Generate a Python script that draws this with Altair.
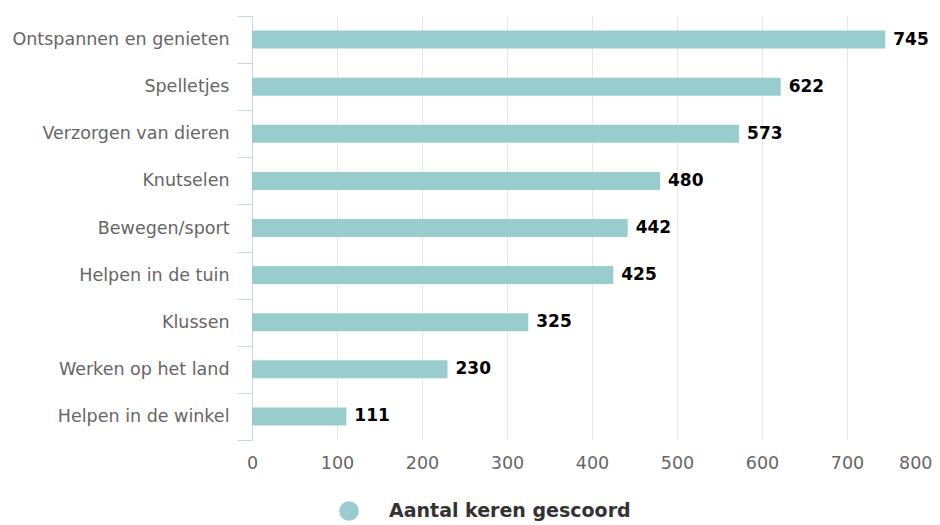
import altair as alt
import pandas as pd

categories = [
    "Ontspannen en genieten",
    "Spelletjes",
    "Verzorgen van dieren",
    "Knutselen",
    "Bewegen/sport",
    "Helpen in de tuin",
    "Klussen",
    "Werken op het land",
    "Helpen in de winkel",
]
values = [745, 622, 573, 480, 442, 425, 325, 230, 111]
series_name = "Aantal keren gescoord"
x_ticks = [0, 100, 200, 300, 400, 500, 600, 700, 800]

df = pd.DataFrame({"cat": categories, "val": values, "series": [series_name] * len(values)})

y_enc = alt.Y(
    "cat:N",
    sort=categories,
    title=None,
    scale=alt.Scale(paddingInner=0, paddingOuter=0),
    axis=alt.Axis(
        domainColor="#ccd6eb",
        tickColor="#ccd6eb",
        tickSize=15,
        tickBand="extent",
        labelPadding=8,
        labelColor="#666666",
        labelFontSize=17.5,
        labelFont="DejaVu Sans",
        labelLimit=400,
        grid=False,
    ),
)
x_enc = alt.X(
    "val:Q",
    title=None,
    scale=alt.Scale(domain=[0, 800], nice=False),
    axis=alt.Axis(
        values=x_ticks,
        domain=False,
        ticks=False,
        grid=True,
        gridColor="#e6e6e6",
        labelPadding=14,
        labelColor="#666666",
        labelFontSize=17.5,
        labelFont="DejaVu Sans",
        labelAlign=alt.ExprRef("datum.value == 800 ? 'right' : 'center'"),
    ),
)

bars = alt.Chart(df).mark_bar(size=18).encode(
    y=y_enc,
    x=x_enc,
    color=alt.Color(
        "series:N",
        scale=alt.Scale(range=["#99cccc"]),
        legend=alt.Legend(
            title=None,
            orient="none",
            legendX=87,
            legendY=485,
            padding=0,
            symbolType="circle",
            symbolSize=380,
            symbolStrokeWidth=0,
            symbolOpacity=1,
            labelOffset=30,
            labelFontSize=19,
            labelFontWeight="bold",
            labelColor="#333333",
            labelFont="DejaVu Sans",
            labelLimit=500,
        ),
    ),
)

labels = alt.Chart(df).mark_text(
    align="left", baseline="middle", dx=8, fontSize=17, fontWeight="bold",
    color="#000000", font="DejaVu Sans",
).encode(
    y=alt.Y("cat:N", sort=categories),
    x=alt.X("val:Q"),
    text=alt.Text("val:Q"),
)

chart = (
    alt.layer(bars, labels)
    .properties(
        width=680,
        height=424,
        autosize=alt.AutoSizeParams(type="none"),
        padding={"left": 244, "top": 8, "right": 0, "bottom": 81},
    )
    .configure(font="DejaVu Sans")
    .configure_view(strokeWidth=0)
)

chart.save("out.html", embed_options={"renderer": "svg", "actions": False})
